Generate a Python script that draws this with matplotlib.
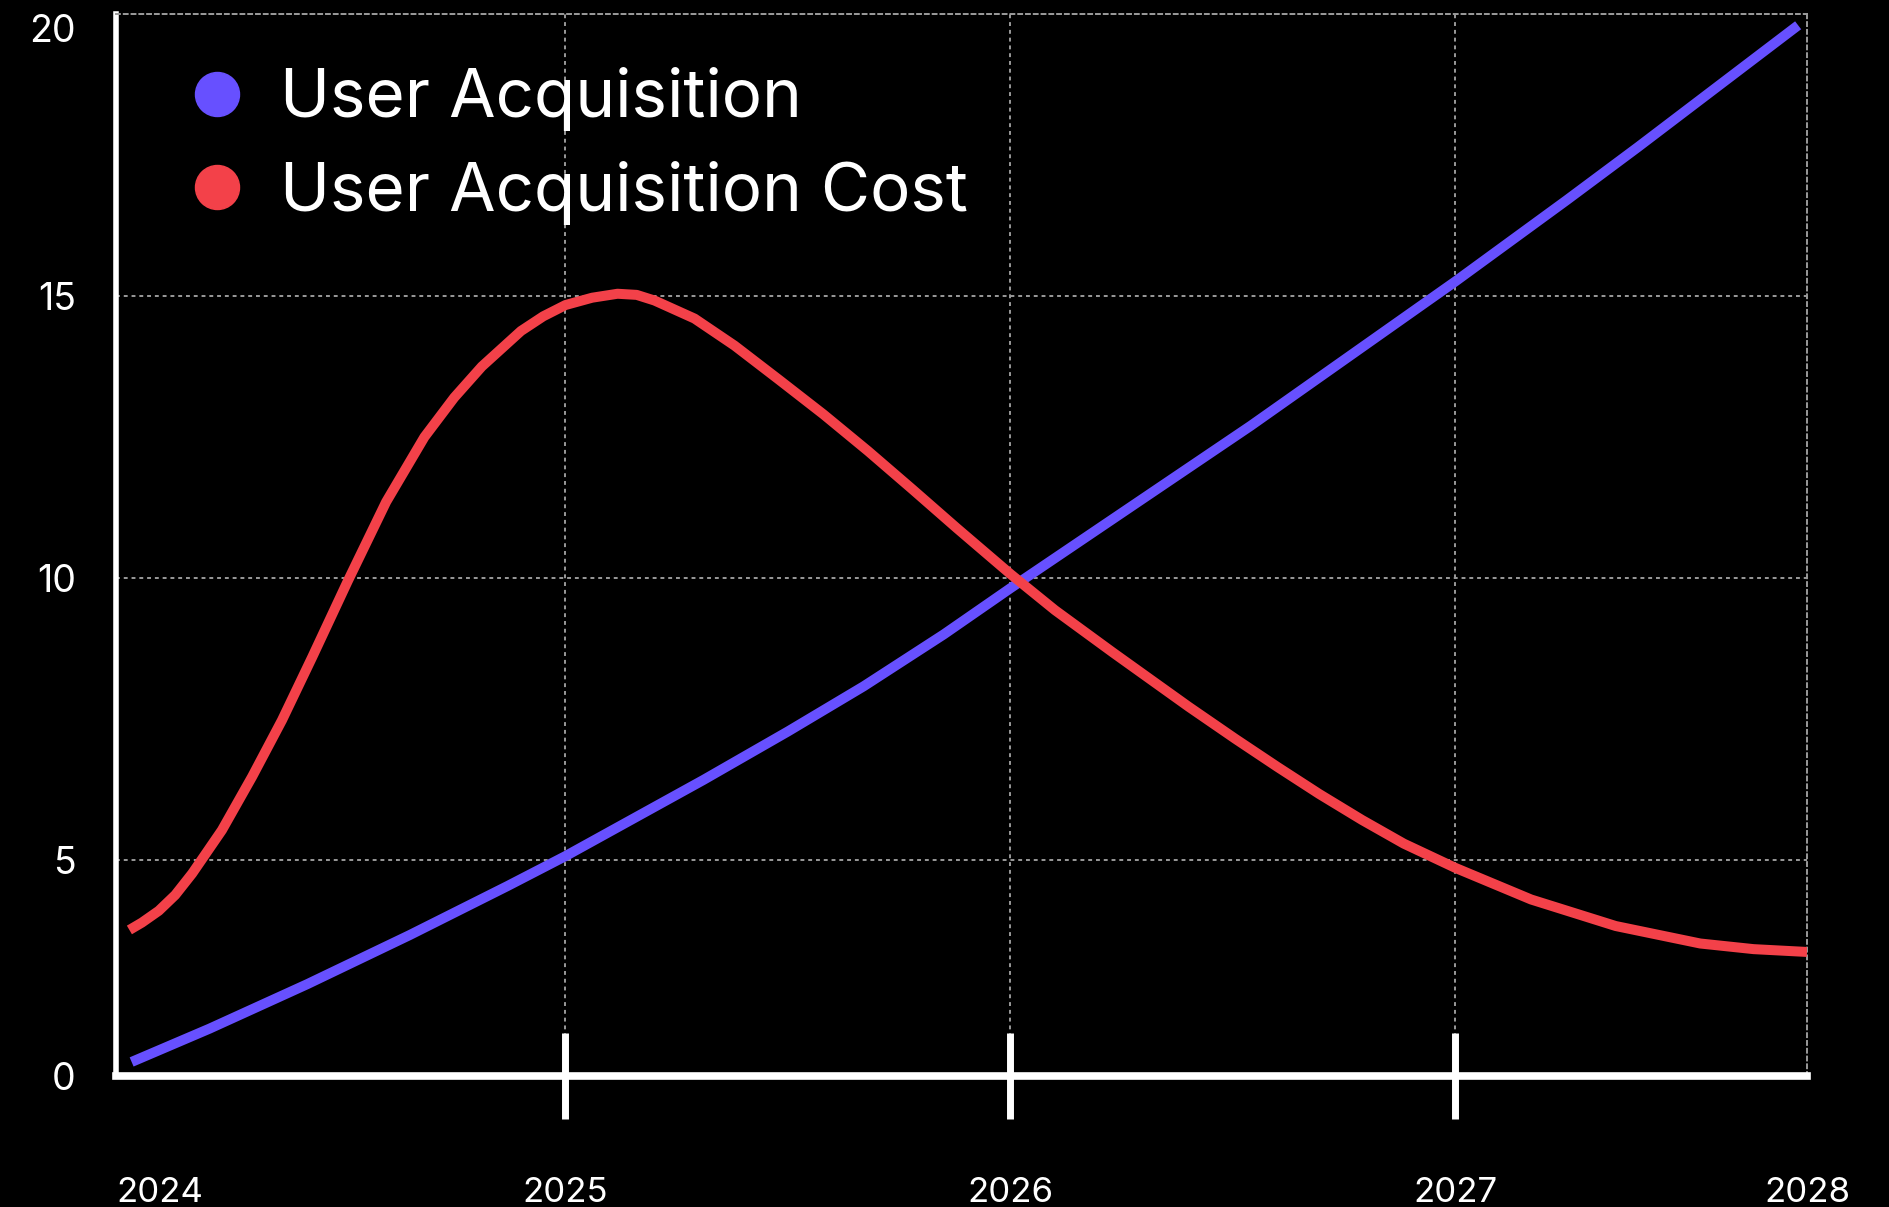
import matplotlib
matplotlib.use("Agg")
import matplotlib.pyplot as plt
from matplotlib.lines import Line2D

plt.rcParams['font.family'] = ['Inter', 'DejaVu Sans']

# data
years_ua = [2024.025, 2024.20, 2024.42, 2024.65, 2024.87, 2025.0, 2025.31, 2025.50,
            2025.67, 2025.85, 2026.0, 2026.30, 2026.54, 2027.0, 2027.25, 2027.41,
            2027.52, 2027.77]
user_acq = [1.42, 2.01, 2.80, 3.67, 4.54, 5.07, 6.42, 7.28,
            8.08, 9.00, 9.82, 11.42, 12.70, 15.26, 16.70, 17.64,
            18.30, 19.80]

years_cost = [2024.02, 2024.048, 2024.086, 2024.123, 2024.161, 2024.228, 2024.296, 2024.363,
              2024.431, 2024.511, 2024.597, 2024.683, 2024.75, 2024.812, 2024.90, 2024.95,
              2025.0, 2025.06, 2025.117, 2025.16, 2025.20, 2025.29, 2025.38, 2025.479,
              2025.58, 2025.68, 2025.78, 2025.88, 2026.0, 2026.10, 2026.23, 2026.315,
              2026.40, 2026.505, 2026.60, 2026.694, 2026.79, 2026.884, 2027.0, 2027.17,
              2027.36, 2027.55, 2027.67, 2027.79]
user_acq_cost = [3.76, 3.89, 4.10, 4.38, 4.76, 5.53, 6.48, 7.48,
                 8.60, 9.95, 11.35, 12.50, 13.20, 13.75, 14.38, 14.64,
                 14.84, 14.97, 15.04, 15.02, 14.92, 14.60, 14.12, 13.52,
                 12.90, 12.25, 11.57, 10.88, 10.07, 9.43, 8.68, 8.20,
                 7.72, 7.15, 6.65, 6.17, 5.71, 5.29, 4.86, 4.30,
                 3.83, 3.52, 3.42, 3.37]

x_min, x_max = 2023.99, 2027.79
y_min, y_max = 1.17, 20
year_ticks = [2025, 2026, 2027]
year_labels = ["2025", "2026", "2027"]
edge_labels = ["2024", "2028"]
value_ticks = [y_min, 5, 10, 15, 20]
value_labels = ["0", "5", "10", "15", "20"]

blue = "#6750FF"
red = "#F34149"

fig = plt.figure(figsize=(18.9, 12.07), dpi=100, facecolor="black")
ax = fig.add_axes([0.0614, 0.1085, 0.8947, 0.8799], facecolor="black")

ax.plot(years_ua, user_acq, color=blue, lw=7.2, solid_capstyle="butt",
        solid_joinstyle="round", zorder=3)
ax.plot(years_cost, user_acq_cost, color=red, lw=7.2, solid_capstyle="butt",
        solid_joinstyle="round", zorder=3)

ax.set_xlim(x_min, x_max)
ax.set_ylim(y_min, y_max)

ax.set_xticks(year_ticks)
ax.set_xticklabels(year_labels)
ax.set_xticks([x_min, x_max], minor=True)
ax.set_xticklabels(edge_labels, minor=True)
ax.set_yticks(value_ticks)
ax.set_yticklabels(value_labels)

ax.tick_params(axis="x", which="major", direction="inout", length=62, width=5,
               color="white", labelcolor="white", labelsize=25, pad=42)
ax.tick_params(axis="x", which="minor", direction="inout", length=62, width=0,
               labelcolor="white", labelsize=25, pad=42)
ax.tick_params(axis="y", length=0, labelcolor="white", labelsize=27, pad=29)
ax.get_xticklabels(minor=True)[0].set_ha("left")
ax.get_yticklabels()[-1].set_va("top")

ax.grid(True, which="major", color="#9a9a9a", lw=1.4, linestyle=(0, (2, 2)), zorder=0)

for side in ["top", "right"]:
    ax.spines[side].set_color("#9a9a9a")
    ax.spines[side].set_linewidth(1.4)
    ax.spines[side].set_linestyle((0, (2, 2)))
ax.spines["left"].set_color("white")
ax.spines["left"].set_linewidth(4)
ax.spines["bottom"].set_color("white")
ax.spines["bottom"].set_linewidth(5.5)

handles = [Line2D([], [], ls="none", marker="o", markersize=31.7, color=blue),
           Line2D([], [], ls="none", marker="o", markersize=31.7, color=red)]
ax.legend(handles, ["User Acquisition", "User Acquisition Cost"], loc="upper left",
          bbox_to_anchor=(0.046, 0.95), frameon=False, fontsize=48.5, labelcolor="white",
          handlelength=0.7, handletextpad=0.58, labelspacing=0.44, borderpad=0,
          borderaxespad=0)

fig.savefig("out.png", dpi=100, facecolor="black")
